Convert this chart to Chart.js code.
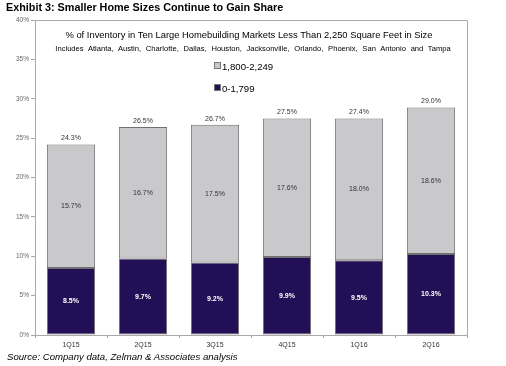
<!DOCTYPE html>
<html>
<head>
<meta charset="utf-8">
<script src="https://cdn.jsdelivr.net/npm/chart.js@4.4.1/dist/chart.umd.min.js"></script>
<style>
    html, body { margin: 0; padding: 0; background: #fff; }
    #wrap { position: relative; width: 506px; height: 366px; font-family: "Liberation Sans", Arial, sans-serif; }
    #chart { position: absolute; left: 0; top: 0; }
    .txt { position: absolute; white-space: nowrap; color: #000; }
    #title { left: 6px; top: 1px; font-size: 10.8px; font-weight: bold; }
    #inner1 { left: -4px; width: 506px; text-align: center; top: 29px; font-size: 9.4px; }
    #inner2 { left: 0; width: 506px; text-align: center; top: 44px; font-size: 7.6px; word-spacing: 2.6px; }
    #source { left: 7px; top: 351px; font-size: 9.6px; font-style: italic; }
    .leg { position: absolute; font-size: 9.6px; white-space: nowrap; }
    .leg span { display: inline-block; width: 5px; height: 5px; margin-right: 1px; vertical-align: 1px; border: 1px solid #777; }
</style>
</head>
<body>
<div id="wrap">
    <canvas id="chart" width="506" height="366"></canvas>
    <div class="txt" id="title">Exhibit 3: Smaller Home Sizes Continue to Gain Share</div>
    <div class="txt" id="inner1">% of Inventory in Ten Large Homebuilding Markets Less Than 2,250 Square Feet in Size</div>
    <div class="txt" id="inner2">Includes Atlanta, Austin, Charlotte, Dallas, Houston, Jacksonville, Orlando, Phoenix, San Antonio and Tampa</div>
    <div class="leg" style="left:214px; top:61px;"><span style="background:#c9c9cc"></span>1,800-2,249</div>
    <div class="leg" style="left:214px; top:83px;"><span style="background:#230f55"></span>0-1,799</div>
    <div class="txt" id="source">Source: Company data, Zelman &amp; Associates analysis</div>
</div>
<script>
const quarters = ['1Q15', '2Q15', '3Q15', '4Q15', '1Q16', '2Q16'];
const small = [8.5, 9.7, 9.2, 9.9, 9.5, 10.3];
const mid = [15.7, 16.7, 17.5, 17.6, 18.0, 18.6];
const totals = [24.3, 26.5, 26.7, 27.5, 27.4, 29.0];
const yTicks = [0, 5, 10, 15, 20, 25, 30, 35, 40];

const labelPlugin = {
    id: 'barLabels',
    afterDatasetsDraw(chart) {
        const ctx = chart.ctx;
        const y = chart.scales.y;
        const a = chart.chartArea;
        ctx.save();
        // box around plot area (top and right)
        ctx.strokeStyle = '#a8a8a8';
        ctx.lineWidth = 1;
        ctx.beginPath();
        ctx.moveTo(a.left, a.top + 0.5);
        ctx.lineTo(a.right + 0.5, a.top + 0.5);
        ctx.lineTo(a.right + 0.5, a.bottom);
        ctx.stroke();

        ctx.textAlign = 'center';
        ctx.textBaseline = 'middle';
        const metaS = chart.getDatasetMeta(0);
        const metaM = chart.getDatasetMeta(1);
        quarters.forEach((q, i) => {
            const x = metaS.data[i].x;
            const ySmall = (y.getPixelForValue(0) + y.getPixelForValue(small[i])) / 2;
            const yMid = (y.getPixelForValue(small[i]) + y.getPixelForValue(small[i] + mid[i])) / 2;
            ctx.fillStyle = '#ffffff';
            ctx.font = 'bold 7px "Liberation Sans", Arial, sans-serif';
            ctx.fillText(small[i].toFixed(1) + '%', x, ySmall);
            ctx.fillStyle = '#333333';
            ctx.font = '7px "Liberation Sans", Arial, sans-serif';
            ctx.fillText(mid[i].toFixed(1) + '%', x, yMid);
            ctx.fillText(totals[i].toFixed(1) + '%', x, metaM.data[i].y - 6);
        });
        ctx.restore();
    }
};

new Chart(document.getElementById('chart').getContext('2d'), {
    type: 'bar',
    data: {
        labels: quarters,
        datasets: [{
            label: '0-1,799',
            data: small,
            backgroundColor: '#230f55',
            borderColor: '#707070',
            borderWidth: 1,
            borderSkipped: false,
            barPercentage: 0.67,
            categoryPercentage: 1
        }, {
            label: '1,800-2,249',
            data: mid,
            backgroundColor: '#c9c9cc',
            borderColor: '#707070',
            borderWidth: 1,
            borderSkipped: false,
            barPercentage: 0.67,
            categoryPercentage: 1
        }]
    },
    options: {
        responsive: false,
        animation: false,
        layout: { padding: { left: 0, top: 20, right: 39, bottom: 0 } },
        plugins: {
            legend: { display: false },
            title: { display: false },
            tooltip: { enabled: false }
        },
        scales: {
            x: {
                stacked: true,
                grid: { drawOnChartArea: false, tickLength: 3, color: '#a8a8a8' },
                border: { color: '#a8a8a8' },
                ticks: { color: '#333', font: { size: 7, family: '"Liberation Sans", Arial' }, padding: 3 },
                afterFit(scale) { scale.height = 31; }
            },
            y: {
                stacked: true,
                min: 0,
                max: 40,
                afterBuildTicks(scale) { scale.ticks = yTicks.map(v => ({ value: v })); },
                grid: { drawOnChartArea: false, tickLength: 4, color: '#a8a8a8' },
                border: { color: '#a8a8a8' },
                ticks: {
                    color: '#666',
                    font: { size: 6.5, family: '"Liberation Sans", Arial' },
                    padding: 2,
                    callback: v => v + '%'
                },
                afterFit(scale) { scale.width = 35; }
            }
        }
    },
    plugins: [labelPlugin]
});
</script>
</body>
</html>
